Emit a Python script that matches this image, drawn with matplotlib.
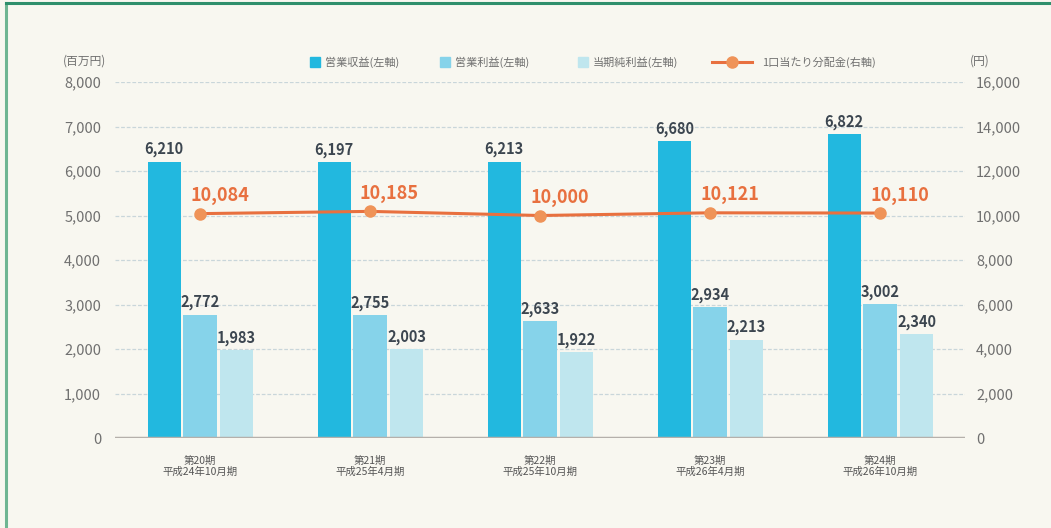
import matplotlib
matplotlib.use("Agg")
import matplotlib.pyplot as plt
from matplotlib.lines import Line2D
from matplotlib.patches import Rectangle
import numpy as np

plt.rcParams['font.family'] = ['Noto Sans CJK JP', 'DejaVu Sans']

periods = ["第20期\n平成24年10月期", "第21期\n平成25年4月期", "第22期\n平成25年10月期",
           "第23期\n平成26年4月期", "第24期\n平成26年10月期"]
revenue = [6210, 6197, 6213, 6680, 6822]
op_income = [2772, 2755, 2633, 2934, 3002]
net_income = [1983, 2003, 1922, 2213, 2340]
distribution = [10084, 10185, 10000, 10121, 10110]
left_ticks = [0, 1000, 2000, 3000, 4000, 5000, 6000, 7000, 8000]
right_ticks = [0, 2000, 4000, 6000, 8000, 10000, 12000, 14000, 16000]
series_names = ["営業収益(左軸)", "営業利益(左軸)", "当期純利益(左軸)", "1口当たり分配金(右軸)"]

bg = "#f8f7f0"
c_rev = "#22b8df"
c_op = "#86d3ea"
c_net = "#bfe6ee"
c_line = "#e8703f"
c_marker = "#ef9358"
c_text = "#707070"
c_val = "#3c4650"

fig = plt.figure(figsize=(10.51, 5.28), dpi=100, facecolor=bg)
W, H = 1051, 528

def fx(px):
    return px / W

def fy(py):
    return 1 - py / H

# frame lines (left and top)
fig.add_artist(Line2D([fx(6), fx(6)], [0, fy(3)], color="#6fb592", lw=2.2))
fig.add_artist(Line2D([fx(6), 1], [fy(3), fy(3)], color="#2f8f6c", lw=2.2))

ax = fig.add_axes([fx(115), fy(438), fx(965 - 115), (438 - 82) / H])
ax.set_facecolor(bg)
ax2 = ax.twinx()

x = np.arange(len(periods))
w = 0.195
ax.bar(x - 0.21, revenue, w, color=c_rev, zorder=3)
ax.bar(x, op_income, w, color=c_op, zorder=3)
ax.bar(x + 0.215, net_income, w, color=c_net, zorder=3)

for xs, vals in ((x - 0.21, revenue), (x, op_income), (x + 0.215, net_income)):
    for xi, v in zip(xs, vals):
        ax.annotate(f"{v:,}", (xi, v), xytext=(0, 3), textcoords="offset points",
                    ha="center", va="bottom", fontsize=10.5, color=c_val, fontweight="bold")

ax.set_xlim(-0.5, len(periods) - 0.5)
ax.set_ylim(0, 8000)
ax.set_yticks(left_ticks)
ax.set_yticklabels([f"{t:,}" for t in left_ticks])
ax.set_xticks(x)
ax.set_xticklabels(periods, fontsize=7.5, color="#555555", linespacing=1.05)
ax.tick_params(axis="x", length=0, pad=13)
ax.tick_params(axis="y", length=0, labelsize=10.5, labelcolor=c_text, pad=10)
for t in left_ticks[1:]:
    ax.axhline(t, color="#c9d6da", lw=0.9, ls=(0, (3, 1.5)), zorder=1)
ax.axhline(0, color="#b5b0ab", lw=2.5, zorder=4)
for s in ax.spines.values():
    s.set_visible(False)

ax2.set_ylim(0, 16000)
ax2.set_yticks(right_ticks)
ax2.set_yticklabels([f"{t:,}" for t in right_ticks])
ax2.tick_params(axis="y", length=0, labelsize=10.5, labelcolor=c_text, pad=8)
for s in ax2.spines.values():
    s.set_visible(False)
ax2.plot(x, distribution, color=c_line, lw=2.2, marker="o", markersize=8,
         markerfacecolor=c_marker, markeredgecolor=c_marker, zorder=5)
for xi, v in zip(x, distribution):
    ax2.annotate(f"{v:,}", (xi, v), xytext=(14, 6), textcoords="offset points",
                 ha="center", va="bottom", fontsize=13, color=c_line, fontweight="bold")

# axis unit labels
fig.text(fx(106), fy(61), "(百万円)", ha="right", va="center", fontsize=8.5, color=c_text)
fig.text(fx(970), fy(61), "(円)", ha="left", va="center", fontsize=8.5, color=c_text)

# legend
ly = 62
for sx, col, name in ((310, c_rev, series_names[0]), (440, c_op, series_names[1]),
                      (578, c_net, series_names[2])):
    fig.add_artist(Rectangle((fx(sx), fy(ly + 5)), fx(10), 10 / H, color=col))
    fig.text(fx(sx + 15), fy(ly), name, ha="left", va="center", fontsize=8, color=c_text)
fig.add_artist(Line2D([fx(712), fx(752)], [fy(ly), fy(ly)], color=c_line, lw=2.2))
fig.add_artist(Line2D([fx(732)], [fy(ly)], color=c_marker, marker="o", markersize=8, lw=0))
fig.text(fx(762), fy(ly), series_names[3], ha="left", va="center", fontsize=8, color=c_text)

fig.savefig("out.png", dpi=100, facecolor=bg)
